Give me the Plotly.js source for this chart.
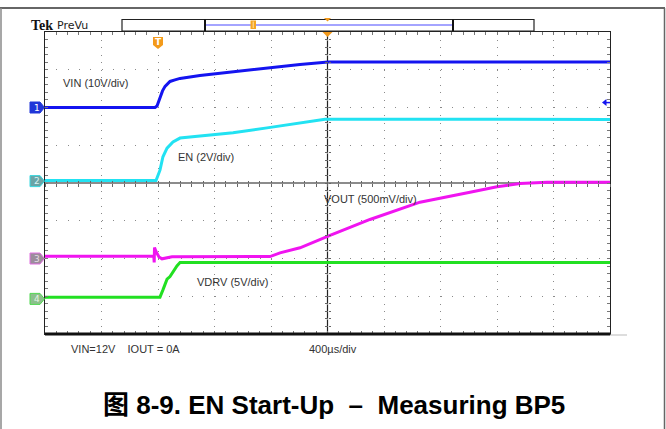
<!DOCTYPE html>
<html><head><meta charset="utf-8">
<script src="https://cdn.plot.ly/plotly-3.0.1.min.js"></script>
<style>html,body{margin:0;padding:0;background:#fff}#chart{width:666px;height:429px}</style>
</head><body><div id="chart"></div>
<script>
// ---- scope settings ----
const channelNames = ['VIN', 'EN', 'VOUT', 'VDRV'];
const voltsPerDiv = [10, 2, 0.5, 5];
const groundDiv = [2.0, 0.05, -2.0, -3.07];      // ground marker position, divisions from centre
const channelColors = ['#1414f0', '#22e2f2', '#f014f0', '#22e022'];
const channelLabels = ['VIN (10V/div)', 'EN (2V/div)', 'VOUT (500mV/div)', 'VDRV (5V/div)'];
const timeRange = [-800, 3200];   // µs
const usPerDiv = 400;
const triggerLevel = 1.3;         // V on CH1

// ---- waveforms (time in µs, volts) ----
const vinT = [-800, -21, -7, 14, 32, 50, 85, 120, 156, 297, 531, 772, 1005, 1204, 3200];
const vinV = [0, 0, 0.4, 2.9, 4.4, 5.6, 6.9, 7.3, 7.7, 8.5, 9.5, 10.6, 11.4, 12.05, 12.05];
const enT = [-800, -14, 14, 35, 64, 106, 156, 297, 531, 772, 1005, 1182, 3200];
const enV = [0.03, 0.03, 0.58, 1.29, 1.75, 2.07, 2.28, 2.38, 2.56, 2.82, 3.09, 3.28, 3.27];
const voutT = [-800, -29.7, -26.9, -24.8, -14.2, 7.1, 28.3, 56.6, 99.1, 792.9, 863.7, 1005.3, 1203.5, 1217.7, 1500.9, 1854.9, 2208.8, 2400, 2562.8, 2754, 3200];
const voutV = [0.03, 0.03, -0.053, 0.146, 0.093, 0.02, -0.004, 0.009, 0.023, 0.026, 0.075, 0.142, 0.287, 0.305, 0.517, 0.746, 0.878, 0.95, 0.993, 1.011, 1.011];
const vdrvT = [-800, 14, 35, 64, 85, 106, 134, 156, 3200];
const vdrvV = [0.23, 0.23, 1.19, 2.61, 2.95, 3.62, 4.37, 4.81, 4.81];

const bottomNote = 'VIN=12V\u00a0\u00a0\u00a0\u00a0IOUT = 0A';
const timebaseText = '400\u00b5s/div';
const captionText = '图 8-9. EN Start-Up\u00a0\u00a0\u2013\u00a0\u00a0Measuring BP5';

// ---- layout geometry (pixels) ----
const W = 666, H = 429;
const L = 45, T = 32, PW = 565, PH = 302;
const X = px => (px - L) / PW;
const Y = py => (T + PH - py) / PH;

const series = [[vinT, vinV], [enT, enV], [voutT, voutV], [vdrvT, vdrvV]];
const traces = series.map((s, i) => ({
  type: 'scatter', mode: 'lines', x: s[0], y: s[1],
  xaxis: 'x', yaxis: 'y' + (i + 2), name: channelNames[i],
  line: {color: channelColors[i], width: 3}, hoverinfo: 'skip', showlegend: false
}));
// helper traces so every axis is drawn
[['x', 'y'], ['x2', 'y'], ['x3', 'y'], ['x', 'y6'], ['x', 'y7']].forEach(a => {
  traces.unshift({type: 'scatter', mode: 'markers', x: [null], y: [null], xaxis: a[0], yaxis: a[1], showlegend: false, hoverinfo: 'skip'});
});

const layout = {
  width: W, height: H,
  margin: {l: L, r: W - L - PW, t: T, b: H - T - PH, pad: 0},
  paper_bgcolor: '#fff', plot_bgcolor: '#fff',
  font: {family: 'Liberation Sans, Arial, sans-serif', size: 11, color: '#333'},
  showlegend: false,
  xaxis: {
    range: timeRange, dtick: usPerDiv, tick0: 0, showticklabels: false,
    showgrid: true, gridcolor: '#8a8a8a', gridwidth: 1, griddash: '1px,6.55px',
    zeroline: false, showline: true, linecolor: '#222', linewidth: 1.2, mirror: 'allticks',
    ticks: 'inside', ticklen: 3, tickcolor: '#777', tickwidth: 1,
    minor: {dtick: usPerDiv / 5, ticks: 'inside', ticklen: 3, tickcolor: '#777', showgrid: false},
    fixedrange: true
  },
  xaxis2: {overlaying: 'x', anchor: 'free', position: 0.5, range: timeRange, dtick: usPerDiv / 5, tick0: 0,
    ticks: 'outside', ticklen: 2.5, tickcolor: '#666', showticklabels: false, showgrid: false, showline: false, zeroline: false},
  xaxis3: {overlaying: 'x', anchor: 'free', position: 0.5, range: timeRange, dtick: usPerDiv / 5, tick0: 0,
    ticks: 'inside', ticklen: 2.5, tickcolor: '#666', showticklabels: false, showgrid: false, showline: false, zeroline: false},
  yaxis: {
    range: [-4, 4], dtick: 1, showticklabels: false,
    showgrid: true, gridcolor: '#8a8a8a', gridwidth: 1, griddash: '1px,10.3px',
    zeroline: true, zerolinecolor: '#8c8c8c', zerolinewidth: 2,
    showline: true, linecolor: '#222', linewidth: 1.2, mirror: 'allticks',
    ticks: 'inside', ticklen: 3, tickcolor: '#777', tickwidth: 1,
    minor: {dtick: 0.2, ticks: 'inside', ticklen: 3, tickcolor: '#777', showgrid: false},
    fixedrange: true
  },
  yaxis6: {overlaying: 'y', anchor: 'free', position: 0.5, range: [-4, 4], dtick: 0.2,
    ticks: 'outside', ticklen: 2.5, tickcolor: '#666', showticklabels: false, showgrid: false, showline: false, zeroline: false},
  yaxis7: {overlaying: 'y', anchor: 'free', position: 0.5, range: [-4, 4], dtick: 0.2,
    ticks: 'inside', ticklen: 2.5, tickcolor: '#666', showticklabels: false, showgrid: false, showline: false, zeroline: false},
  shapes: [], annotations: []
};
voltsPerDiv.forEach((v, i) => {
  layout['yaxis' + (i + 2)] = {overlaying: 'y', visible: false, fixedrange: true,
    range: [(-4 - groundDiv[i]) * v, (4 - groundDiv[i]) * v]};
});

const S = layout.shapes, A = layout.annotations;
const pline = (x0, y0, x1, y1, color, width) => S.push({type: 'line', xref: 'paper', yref: 'paper',
  x0: X(x0), y0: Y(y0), x1: X(x1), y1: Y(y1), line: {color: color, width: width}});

// outer frame
pline(0, 8, 665, 8, '#333', 1.5);
pline(1, 8, 1, 429, '#8a8a8a', 1.5);
pline(664.5, 8, 664.5, 429, '#666', 1.5);

// centre vertical graticule line
S.push({type: 'line', xref: 'x', yref: 'paper', x0: (timeRange[0] + timeRange[1]) / 2, x1: (timeRange[0] + timeRange[1]) / 2,
  y0: 0, y1: 1, line: {color: '#222', width: 1.2}, layer: 'below'});
// thick bottom edge
pline(45, 334, 610, 334, '#111', 3);
pline(610, 335, 627, 335, '#bbb', 1);

// record-view bar
S.push({type: 'rect', xref: 'paper', yref: 'paper', x0: X(122), x1: X(534), y0: Y(31), y1: Y(19.5), line: {color: '#222', width: 1.2}});
pline(205, 25, 453, 25, '#4a4aff', 1.2);
pline(205, 19.5, 205, 31, '#111', 2);
pline(453, 19.5, 453, 31, '#111', 2);
S.push({type: 'rect', xref: 'paper', yref: 'paper', x0: X(250.5), x1: X(256), y0: Y(29), y1: Y(20.5), fillcolor: '#f5a623', line: {width: 0}});
pline(253.2, 21.5, 253.2, 28, '#fde2b0', 1);
// expansion-point triangles
S.push({type: 'path', xref: 'paper', yref: 'paper', xsizemode: 'pixel', ysizemode: 'pixel', xanchor: 0.5, yanchor: 1,
  path: 'M-5,0 L5,0 L0,-5 Z', fillcolor: '#f29a1d', line: {width: 0}});
S.push({type: 'path', xref: 'paper', yref: 'paper', xsizemode: 'pixel', ysizemode: 'pixel', xanchor: 0.5, yanchor: Y(18),
  path: 'M-3.5,0 L3.5,0 L0,-3.5 Z', fillcolor: '#f29a1d', line: {width: 0}});
// trigger position marker (t = 0)
S.push({type: 'path', xref: 'x', yref: 'paper', xsizemode: 'pixel', ysizemode: 'pixel', xanchor: 0, yanchor: Y(37),
  path: 'M-5,0 L5,0 L5,-8 L0,-12 L-5,-8 Z', fillcolor: '#f39a1a', line: {width: 0}});
A.push({xref: 'x', yref: 'paper', x: 0, y: Y(42), text: '<b>T</b>', showarrow: false,
  font: {size: 9, color: '#fff', family: 'DejaVu Sans'}, xanchor: 'center', yanchor: 'middle'});
// trigger level arrow on right edge
S.push({type: 'path', xref: 'paper', yref: 'y2', xsizemode: 'pixel', ysizemode: 'pixel', xanchor: 1, yanchor: triggerLevel,
  path: 'M-8,0 L-3.5,3.5 L-3.5,-3.5 Z', fillcolor: channelColors[0], line: {width: 0}});
S.push({type: 'path', xref: 'paper', yref: 'y2', xsizemode: 'pixel', ysizemode: 'pixel', xanchor: 1, yanchor: triggerLevel,
  path: 'M-4,0 L0,0', line: {color: channelColors[0], width: 1.5}});

// channel ground markers
const markerFill = ['#2036d8', '#6aa4a6', '#9c8c9c', '#8cc08c'];
const markerEdge = ['#2036d8', '#38d8e0', '#e070e0', '#50d850'];
const markerText = ['#ffffff', '#d8f4f4', '#e4dce4', '#e4f4e4'];
voltsPerDiv.forEach((v, i) => {
  S.push({type: 'path', xref: 'paper', yref: 'y' + (i + 2), xsizemode: 'pixel', ysizemode: 'pixel', xanchor: 0, yanchor: 0,
    path: 'M-15,-5.5 L-5,-5.5 L-0.5,0 L-5,5.5 L-15,5.5 Z', fillcolor: markerFill[i], line: {color: markerEdge[i], width: 1}});
  A.push({xref: 'paper', yref: 'y' + (i + 2), x: X(36.5), y: 0, text: String(i + 1), showarrow: false,
    font: {size: 9, color: markerText[i], family: 'DejaVu Sans'}, xanchor: 'center', yanchor: 'middle'});
});

// text
const txt = (px, py, text, opts) => A.push(Object.assign({xref: 'paper', yref: 'paper', x: X(px), y: Y(py), text: text,
  showarrow: false, xanchor: 'left', yanchor: 'middle', font: {size: 11, color: '#333', family: 'Liberation Sans, Arial, sans-serif'}}, opts || {}));
txt(61, 83, channelLabels[0]);
txt(176, 157, channelLabels[1]);
txt(322, 199, channelLabels[2]);
txt(195, 282, channelLabels[3]);
txt(69, 348.5, bottomNote);
txt(307, 348.5, timebaseText);
txt(29, 25, 'Tek', {font: {size: 14, color: '#111', family: 'Liberation Serif, serif', weight: 'bold'}});
txt(55, 25, 'PreVu', {font: {size: 11, color: '#222', family: 'DejaVu Sans, sans-serif'}});
txt(333.5, 405, captionText, {xanchor: 'center',
  font: {size: 26, color: '#000', family: 'Liberation Sans, Noto Sans CJK SC, sans-serif', weight: 'bold'}});

Plotly.newPlot('chart', traces, layout, {staticPlot: true, displayModeBar: false});
</script>
</body></html>
